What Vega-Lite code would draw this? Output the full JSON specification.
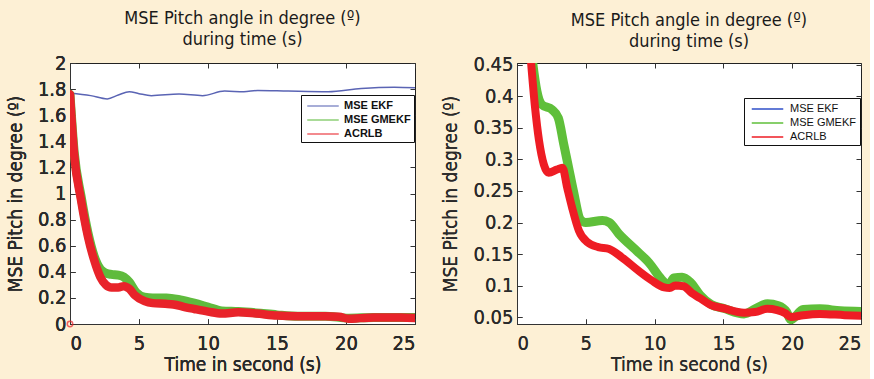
{
  "$schema": "https://vega.github.io/schema/vega-lite/v6.json",
  "background": "#fdf0d5",
  "padding": {"left": 5, "top": 9, "right": 5, "bottom": 5},
  "config": {
    "font": "DejaVu Sans Condensed",
    "view": {"stroke": "#222222", "strokeWidth": 1, "fill": "white"},
    "axis": {
      "grid": false,
      "labelFont": "DejaVu Sans Condensed",
      "labelFontSize": 20,
      "labelFontWeight": 400,
      "labelColor": "#2a2a2a",
      "titleFont": "DejaVu Sans Condensed",
      "titleFontSize": 19,
      "titleFontWeight": 400,
      "titleColor": "#2a2a2a",
      "tickSize": -5,
      "tickColor": "#333333",
      "domainColor": "#333333"
    },
    "axisLeft": {"labelPadding": 9, "titlePadding": 12},
    "axisBottom": {"labelPadding": 14, "titlePadding": 2},
    "title": {"font": "DejaVu Sans Condensed", "fontSize": 18, "fontWeight": 400, "color": "#1a1a1a", "lineHeight": 21, "offset": 4},
    "legend": {
      "orient": "none",
      "title": null,
      "symbolType": "M-2.25,0H2.25",
      "symbolSize": 196,
      "symbolStrokeWidth": 1.5,
      "labelFont": "Liberation Sans",
      "labelFontSize": 11,
      "labelColor": "#111111",
      "strokeColor": "#111111",
      "fillColor": "white",
      "padding": 3,
      "rowPadding": 1
    }
  },
  "datasets": {
    "L": [
      {"t": 0, "v": 1.77, "s": "MSE EKF"}, {"t": 1.5, "v": 1.75, "s": "MSE EKF"}, {"t": 2.7, "v": 1.725, "s": "MSE EKF"}, {"t": 3.5, "v": 1.755, "s": "MSE EKF"}, {"t": 4.3, "v": 1.78, "s": "MSE EKF"}, {"t": 5.0, "v": 1.765, "s": "MSE EKF"}, {"t": 5.9, "v": 1.75, "s": "MSE EKF"}, {"t": 7.9, "v": 1.762, "s": "MSE EKF"}, {"t": 9.6, "v": 1.75, "s": "MSE EKF"}, {"t": 11.2, "v": 1.785, "s": "MSE EKF"}, {"t": 12.6, "v": 1.78, "s": "MSE EKF"}, {"t": 13.6, "v": 1.79, "s": "MSE EKF"}, {"t": 15.8, "v": 1.785, "s": "MSE EKF"}, {"t": 18.7, "v": 1.78, "s": "MSE EKF"}, {"t": 21.1, "v": 1.805, "s": "MSE EKF"}, {"t": 23.5, "v": 1.815, "s": "MSE EKF"}, {"t": 25, "v": 1.81, "s": "MSE EKF"},
      {"t": 0, "v": 1.76, "s": "MSE GMEKF"}, {"t": 0.3, "v": 1.32, "s": "MSE GMEKF"}, {"t": 0.8, "v": 0.98, "s": "MSE GMEKF"}, {"t": 1.3, "v": 0.7, "s": "MSE GMEKF"}, {"t": 1.75, "v": 0.52, "s": "MSE GMEKF"}, {"t": 2.2, "v": 0.42, "s": "MSE GMEKF"}, {"t": 2.6, "v": 0.39, "s": "MSE GMEKF"}, {"t": 3.0, "v": 0.38, "s": "MSE GMEKF"}, {"t": 3.5, "v": 0.375, "s": "MSE GMEKF"}, {"t": 3.9, "v": 0.36, "s": "MSE GMEKF"}, {"t": 4.3, "v": 0.32, "s": "MSE GMEKF"}, {"t": 4.8, "v": 0.24, "s": "MSE GMEKF"}, {"t": 5.4, "v": 0.205, "s": "MSE GMEKF"}, {"t": 6.0, "v": 0.2, "s": "MSE GMEKF"}, {"t": 7.0, "v": 0.2, "s": "MSE GMEKF"}, {"t": 8.0, "v": 0.185, "s": "MSE GMEKF"}, {"t": 9.0, "v": 0.16, "s": "MSE GMEKF"}, {"t": 10.0, "v": 0.13, "s": "MSE GMEKF"}, {"t": 11.0, "v": 0.1, "s": "MSE GMEKF"}, {"t": 12.2, "v": 0.095, "s": "MSE GMEKF"}, {"t": 13.5, "v": 0.085, "s": "MSE GMEKF"}, {"t": 15.0, "v": 0.07, "s": "MSE GMEKF"}, {"t": 16.5, "v": 0.06, "s": "MSE GMEKF"}, {"t": 18.5, "v": 0.06, "s": "MSE GMEKF"}, {"t": 20.2, "v": 0.045, "s": "MSE GMEKF"}, {"t": 22, "v": 0.05, "s": "MSE GMEKF"}, {"t": 25, "v": 0.05, "s": "MSE GMEKF"},
      {"t": 0, "v": 1.76, "s": "ACRLB"}, {"t": 0.3, "v": 1.3, "s": "ACRLB"}, {"t": 0.8, "v": 0.95, "s": "ACRLB"}, {"t": 1.3, "v": 0.67, "s": "ACRLB"}, {"t": 1.75, "v": 0.49, "s": "ACRLB"}, {"t": 2.2, "v": 0.36, "s": "ACRLB"}, {"t": 2.6, "v": 0.3, "s": "ACRLB"}, {"t": 3.0, "v": 0.28, "s": "ACRLB"}, {"t": 3.5, "v": 0.28, "s": "ACRLB"}, {"t": 3.9, "v": 0.29, "s": "ACRLB"}, {"t": 4.3, "v": 0.27, "s": "ACRLB"}, {"t": 4.7, "v": 0.22, "s": "ACRLB"}, {"t": 5.4, "v": 0.175, "s": "ACRLB"}, {"t": 6.0, "v": 0.16, "s": "ACRLB"}, {"t": 6.9, "v": 0.155, "s": "ACRLB"}, {"t": 7.5, "v": 0.15, "s": "ACRLB"}, {"t": 8.3, "v": 0.13, "s": "ACRLB"}, {"t": 9.0, "v": 0.115, "s": "ACRLB"}, {"t": 10.0, "v": 0.095, "s": "ACRLB"}, {"t": 11.0, "v": 0.08, "s": "ACRLB"}, {"t": 12.2, "v": 0.09, "s": "ACRLB"}, {"t": 13.5, "v": 0.08, "s": "ACRLB"}, {"t": 15.0, "v": 0.065, "s": "ACRLB"}, {"t": 16.5, "v": 0.06, "s": "ACRLB"}, {"t": 18.5, "v": 0.06, "s": "ACRLB"}, {"t": 19.5, "v": 0.055, "s": "ACRLB"}, {"t": 20.2, "v": 0.04, "s": "ACRLB"}, {"t": 21, "v": 0.045, "s": "ACRLB"}, {"t": 22, "v": 0.05, "s": "ACRLB"}, {"t": 24, "v": 0.05, "s": "ACRLB"}, {"t": 25, "v": 0.045, "s": "ACRLB"}
    ],
    "O": [{"t": 0, "v": 0, "s": "ACRLB"}],
    "R": [
      {"t": 1.1, "v": 0.46, "s": "MSE GMEKF"}, {"t": 1.45, "v": 0.408, "s": "MSE GMEKF"}, {"t": 1.8, "v": 0.387, "s": "MSE GMEKF"}, {"t": 2.55, "v": 0.379, "s": "MSE GMEKF"}, {"t": 3.0, "v": 0.366, "s": "MSE GMEKF"}, {"t": 3.4, "v": 0.324, "s": "MSE GMEKF"}, {"t": 3.75, "v": 0.287, "s": "MSE GMEKF"}, {"t": 4.1, "v": 0.25, "s": "MSE GMEKF"}, {"t": 4.6, "v": 0.205, "s": "MSE GMEKF"}, {"t": 5.0, "v": 0.2, "s": "MSE GMEKF"}, {"t": 6.2, "v": 0.203, "s": "MSE GMEKF"}, {"t": 6.7, "v": 0.2, "s": "MSE GMEKF"}, {"t": 7.4, "v": 0.182, "s": "MSE GMEKF"}, {"t": 8.6, "v": 0.157, "s": "MSE GMEKF"}, {"t": 9.6, "v": 0.136, "s": "MSE GMEKF"}, {"t": 10.5, "v": 0.11, "s": "MSE GMEKF"}, {"t": 11.0, "v": 0.1, "s": "MSE GMEKF"}, {"t": 11.4, "v": 0.112, "s": "MSE GMEKF"}, {"t": 12.0, "v": 0.113, "s": "MSE GMEKF"}, {"t": 12.6, "v": 0.105, "s": "MSE GMEKF"}, {"t": 13.3, "v": 0.085, "s": "MSE GMEKF"}, {"t": 14.1, "v": 0.07, "s": "MSE GMEKF"}, {"t": 15.0, "v": 0.064, "s": "MSE GMEKF"}, {"t": 16.5, "v": 0.055, "s": "MSE GMEKF"}, {"t": 17.3, "v": 0.063, "s": "MSE GMEKF"}, {"t": 18.2, "v": 0.071, "s": "MSE GMEKF"}, {"t": 19.0, "v": 0.068, "s": "MSE GMEKF"}, {"t": 19.6, "v": 0.058, "s": "MSE GMEKF"}, {"t": 19.9, "v": 0.046, "s": "MSE GMEKF"}, {"t": 20.8, "v": 0.062, "s": "MSE GMEKF"}, {"t": 22, "v": 0.063, "s": "MSE GMEKF"}, {"t": 23.5, "v": 0.06, "s": "MSE GMEKF"}, {"t": 25, "v": 0.059, "s": "MSE GMEKF"},
      {"t": 1.0, "v": 0.46, "s": "ACRLB"}, {"t": 1.3, "v": 0.385, "s": "ACRLB"}, {"t": 1.6, "v": 0.33, "s": "ACRLB"}, {"t": 1.95, "v": 0.292, "s": "ACRLB"}, {"t": 2.3, "v": 0.279, "s": "ACRLB"}, {"t": 2.9, "v": 0.284, "s": "ACRLB"}, {"t": 3.3, "v": 0.287, "s": "ACRLB"}, {"t": 3.65, "v": 0.255, "s": "ACRLB"}, {"t": 4.0, "v": 0.224, "s": "ACRLB"}, {"t": 4.5, "v": 0.187, "s": "ACRLB"}, {"t": 5.1, "v": 0.169, "s": "ACRLB"}, {"t": 5.9, "v": 0.161, "s": "ACRLB"}, {"t": 6.7, "v": 0.158, "s": "ACRLB"}, {"t": 7.6, "v": 0.145, "s": "ACRLB"}, {"t": 8.8, "v": 0.124, "s": "ACRLB"}, {"t": 9.8, "v": 0.108, "s": "ACRLB"}, {"t": 10.7, "v": 0.097, "s": "ACRLB"}, {"t": 11.1, "v": 0.096, "s": "ACRLB"}, {"t": 11.5, "v": 0.1, "s": "ACRLB"}, {"t": 12.1, "v": 0.099, "s": "ACRLB"}, {"t": 12.7, "v": 0.088, "s": "ACRLB"}, {"t": 13.3, "v": 0.08, "s": "ACRLB"}, {"t": 14.1, "v": 0.069, "s": "ACRLB"}, {"t": 15.0, "v": 0.064, "s": "ACRLB"}, {"t": 16.5, "v": 0.057, "s": "ACRLB"}, {"t": 17.3, "v": 0.058, "s": "ACRLB"}, {"t": 18.2, "v": 0.063, "s": "ACRLB"}, {"t": 18.9, "v": 0.061, "s": "ACRLB"}, {"t": 19.5, "v": 0.056, "s": "ACRLB"}, {"t": 19.9, "v": 0.05, "s": "ACRLB"}, {"t": 20.8, "v": 0.053, "s": "ACRLB"}, {"t": 22, "v": 0.055, "s": "ACRLB"}, {"t": 23.8, "v": 0.053, "s": "ACRLB"}, {"t": 25, "v": 0.052, "s": "ACRLB"}
    ]
  },
  "bounds": "flush",
  "spacing": 102,
  "resolve": {"scale": {"color": "independent"}, "legend": {"color": "independent"}},
  "hconcat": [
    {
      "width": 345,
      "height": 261,
      "title": {"text": ["MSE Pitch angle in degree (º)", "during time (s)"]},
      "resolve": {"axis": {"x": "independent", "y": "independent"}},
      "encoding": {
        "x": {"field": "t", "type": "quantitative", "scale": {"domain": [0, 25], "nice": false}, "axis": {"values": [0, 5, 10, 15, 20, 25], "title": "Time in second (s)", "orient": "bottom"}},
        "y": {"field": "v", "type": "quantitative", "scale": {"domain": [0, 2], "nice": false}, "axis": {"values": [0, 0.2, 0.4, 0.6, 0.8, 1, 1.2, 1.4, 1.6, 1.8, 2], "format": "~g", "title": "MSE Pitch in degree (º)", "orient": "left"}},
        "color": {"field": "s", "type": "nominal", "scale": {"domain": ["MSE EKF", "MSE GMEKF", "ACRLB"], "range": ["#5a64b4", "#5fbb3d", "#e8232a"]}, "legend": {"legendX": 231, "legendY": 32, "symbolOffset": 11, "labelOffset": 13, "labelFontWeight": "bold"}}
      },
      "layer": [
        {
          "data": {"name": "L"},
          "transform": [{"filter": "datum.s === 'MSE EKF'"}],
          "mark": {"type": "line", "interpolate": "monotone", "strokeWidth": 1.5, "clip": true}
        },
        {
          "data": {"name": "L"},
          "transform": [{"filter": "datum.s === 'MSE GMEKF'"}],
          "mark": {"type": "line", "interpolate": "monotone", "strokeWidth": 9, "strokeCap": "round", "strokeJoin": "round", "clip": true}
        },
        {
          "data": {"name": "L"},
          "transform": [{"filter": "datum.s === 'ACRLB'"}],
          "mark": {"type": "line", "interpolate": "monotone", "strokeWidth": 8.5, "strokeCap": "round", "strokeJoin": "round", "clip": true}
        },
        {
          "data": {"name": "O"},
          "mark": {"type": "point", "shape": "circle", "size": 30, "filled": false, "strokeWidth": 1.5, "clip": false},
          "encoding": {
            "x": {"field": "t", "type": "quantitative", "scale": {"domain": [0, 25], "nice": false}, "axis": {"values": [0, 5, 10, 15, 20, 25], "labels": false, "title": null, "domain": false, "orient": "top"}},
            "y": {"field": "v", "type": "quantitative", "scale": {"domain": [0, 2], "nice": false}, "axis": {"values": [0, 0.2, 0.4, 0.6, 0.8, 1, 1.2, 1.4, 1.6, 1.8, 2], "labels": false, "title": null, "domain": false, "orient": "right"}}
          }
        }
      ]
    },
    {
      "width": 344,
      "height": 261,
      "title": {"text": ["MSE Pitch angle in degree (º)", "during time (s)"]},
      "resolve": {"axis": {"x": "independent", "y": "independent"}},
      "encoding": {
        "x": {"field": "t", "type": "quantitative", "scale": {"domain": [0, 25], "nice": false}, "axis": {"values": [0, 5, 10, 15, 20, 25], "title": "Time in second (s)", "orient": "bottom"}},
        "y": {"field": "v", "type": "quantitative", "scale": {"domain": [0.039, 0.453], "nice": false, "zero": false}, "axis": {"values": [0.05, 0.1, 0.15, 0.2, 0.25, 0.3, 0.35, 0.4, 0.45], "format": "~g", "title": "MSE Pitch in degree (º)", "orient": "left"}},
        "color": {"field": "s", "type": "nominal", "scale": {"domain": ["MSE EKF", "MSE GMEKF", "ACRLB"], "range": ["#2f4fc8", "#5fbf3a", "#ee1c24"]}, "legend": {"legendX": 227, "legendY": 35, "symbolOffset": 12.5, "labelOffset": 14.5, "labelFontWeight": "normal"}}
      },
      "layer": [
        {
          "data": {"name": "R"},
          "transform": [{"filter": "datum.s === 'MSE GMEKF'"}],
          "mark": {"type": "line", "interpolate": "monotone", "strokeWidth": 9, "strokeCap": "round", "strokeJoin": "round", "clip": true}
        },
        {
          "data": {"name": "R"},
          "transform": [{"filter": "datum.s === 'ACRLB'"}],
          "mark": {"type": "line", "interpolate": "monotone", "strokeWidth": 8, "strokeCap": "round", "strokeJoin": "round", "clip": true}
        },
        {
          "data": {"name": "R"},
          "mark": {"type": "point", "opacity": 0},
          "encoding": {
            "x": {"field": "t", "type": "quantitative", "scale": {"domain": [0, 25], "nice": false}, "axis": {"values": [0, 5, 10, 15, 20, 25], "labels": false, "title": null, "domain": false, "orient": "top"}},
            "y": {"field": "v", "type": "quantitative", "scale": {"domain": [0.039, 0.453], "nice": false, "zero": false}, "axis": {"values": [0.05, 0.1, 0.15, 0.2, 0.25, 0.3, 0.35, 0.4, 0.45], "labels": false, "title": null, "domain": false, "orient": "right"}},
            "color": {"value": "#000000"}
          }
        }
      ]
    }
  ]
}
